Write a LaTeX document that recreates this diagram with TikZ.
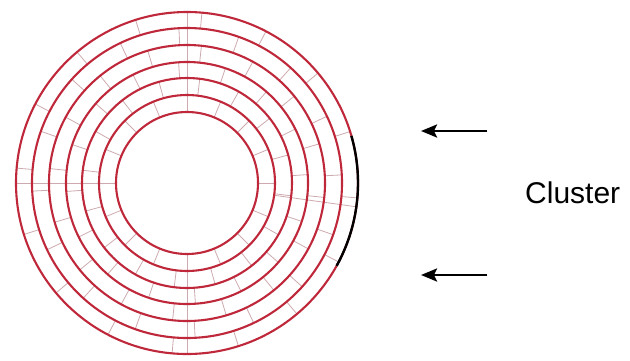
\documentclass[tikz,border=0pt]{standalone}
\usepackage{fontspec}
\setmainfont{Liberation Sans}
\usetikzlibrary{calc,arrows.meta}
\definecolor{ringred}{RGB}{190,40,58}
\definecolor{spokecol}{RGB}{205,170,175}
\tikzset{
  ring/.style={draw=ringred, line width=2.1pt},
  spoke/.style={draw=spokecol, line width=0.8pt},
  clusterarc/.style={draw=black, line width=2.4pt},
  pointer/.style={draw=black, line width=2.6pt, -{Stealth[length=16pt,width=13pt,inset=3pt]}},
  label/.style={font=\fontsize{30}{34}\selectfont, inner sep=0pt}
}
\begin{document}
\begin{tikzpicture}[x=1pt,y=-1pt]
\useasboundingbox (0,0) rectangle (630,360);
\coordinate (c) at (187,183);
% spokes, staggered per annulus
\foreach \ra/\rb/\off in {71/88/0, 88/105/7, 105/121/-4, 121/138/6, 138/155/-3, 155/171/5}{
  \foreach \a in {0,22.5,...,337.5}{
    \draw[spoke] ($(c)+(\a+\off:\ra)$) -- ($(c)+(\a+\off:\rb)$);
  }
}
% main axis spokes through all rings
\foreach \a in {90,180,270}{
  \draw[spoke] ($(c)+(\a:71)$) -- ($(c)+(\a:171)$);
}
\draw[spoke] ($(c)+(8:88)$) -- ($(c)+(8:171)$);
% rings
\foreach \r in {71,88,105,121,138,155,171}{
  \draw[ring] (c) circle[radius=\r];
}
% highlighted cluster arc
\draw[clusterarc] ($(c)+(-16:171)$) arc[start angle=-16, end angle=29, radius=171];
% arrows and label
\coordinate (a1s) at (487,131);
\coordinate (a1e) at (421,131);
\coordinate (a2s) at (487,275);
\coordinate (a2e) at (421,275);
\draw[pointer] (a1s) -- (a1e);
\draw[pointer] (a2s) -- (a2e);
\node[label, anchor=base west] (cl) at (525,203) {Cluster};
\end{tikzpicture}
\end{document}
